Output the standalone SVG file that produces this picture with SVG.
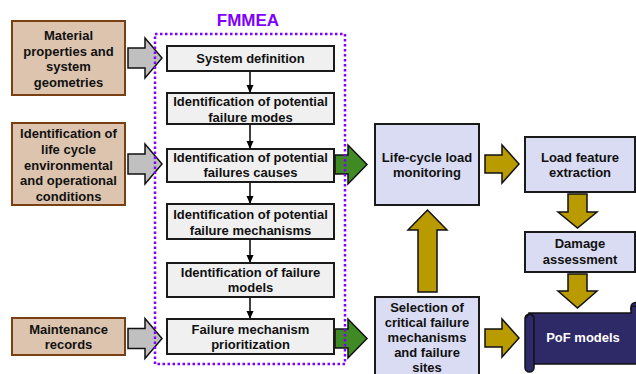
<svg xmlns="http://www.w3.org/2000/svg" width="636" height="374" viewBox="0 0 636 374">
<defs>
<marker id="ah" viewBox="0 0 8 8" refX="8" refY="4" markerWidth="8" markerHeight="8" markerUnits="userSpaceOnUse" orient="auto"><path d="M0,0.5 L8,4 L0,7.5 Z" fill="#000"/></marker>
<style>
text{font-family:"Liberation Sans",Arial,sans-serif;font-weight:bold;font-size:13px;text-anchor:middle;fill:#111}
.brown{fill:#dcc4ae;stroke:#7a3f12;stroke-width:2}
.proc{fill:#f0f0f0;stroke:#1a1a1a;stroke-width:2}
.lav{fill:#d9dcf2;stroke:#1a1a1a;stroke-width:2}
.gray{fill:#c0c0c0;stroke:#111;stroke-width:1.5;stroke-linejoin:miter}
.green{fill:#3f8a24;stroke:#111;stroke-width:1.5}
.gold{fill:#b99b00;stroke:#111;stroke-width:1.5}
.line{stroke:#000;stroke-width:1.5;fill:none}
.navy{fill:#2e2a68;stroke:#111;stroke-width:1.5}
</style>
</defs>
<rect width="636" height="374" fill="#fff"/>

<g id="connectors">
<path class="gray" d="M128,48 H145 V38 L162,58 L145,78 V68 H128 Z"/>
<path class="gray" d="M128,154 H145 V144 L162,164 L145,184 V174 H128 Z"/>
<path class="gray" d="M128,328.5 H145 V318.5 L162,338.5 L145,358.5 V348.5 H128 Z"/>
<line class="line" x1="250" y1="71" x2="250" y2="93" marker-end="url(#ah)"/>
<line class="line" x1="250" y1="124" x2="250" y2="149" marker-end="url(#ah)"/>
<line class="line" x1="250" y1="182" x2="250" y2="204" marker-end="url(#ah)"/>
<line class="line" x1="250" y1="239" x2="250" y2="263" marker-end="url(#ah)"/>
<line class="line" x1="250" y1="297" x2="250" y2="319" marker-end="url(#ah)"/>
<path class="green" d="M335,155 H348 V145 L367,164.5 L348,184 V174 H335 Z"/>
<path class="green" d="M335,329 H348 V319 L367,338.5 L348,358 V348 H335 Z"/>
<path class="gold" d="M485,155 H502 V145 L519,164 L502,183 V173 H485 Z"/>
<path class="gold" d="M485,329 H502 V319 L519,338 L502,357 V347 H485 Z"/>
<path class="gold" d="M568,194 H587 V212 H597 L577.5,228 L558,212 H568 Z"/>
<path class="gold" d="M568,274 H587 V291 H597 L577.5,308 L558,291 H568 Z"/>
<path class="gold" d="M418,292 V230 H408 L427.5,210 L447,230 H437 V292 Z"/>
</g>

<g id="fmmea">
<rect x="155" y="34" width="190" height="330" fill="none" stroke="#8000ff" stroke-width="2.5" stroke-dasharray="2.5 2.5"/>
<text x="248" y="26" style="font-size:17px;fill:#8000ff">FMMEA</text>
</g>

<g id="material">
<rect class="brown" x="12" y="21" width="113" height="74"/>
<text x="68.5" y="40">Material</text>
<text x="68.5" y="56">properties and</text>
<text x="68.5" y="71">system</text>
<text x="68.5" y="87">geometries</text>
</g>
<g id="lifecycle-conditions">
<rect class="brown" x="12" y="123" width="113" height="82"/>
<text x="68.5" y="138">Identification of</text>
<text x="68.5" y="154">life cycle</text>
<text x="68.5" y="170">environmental</text>
<text x="68.5" y="185">and operational</text>
<text x="68.5" y="201">conditions</text>
</g>
<g id="maintenance">
<rect class="brown" x="12" y="318" width="113" height="37"/>
<text x="68.5" y="334">Maintenance</text>
<text x="68.5" y="349">records</text>
</g>

<g id="system-definition">
<rect class="proc" x="167" y="46" width="167" height="25"/>
<text x="250.5" y="63">System definition</text>
</g>
<g id="failure-modes">
<rect class="proc" x="167" y="93" width="167" height="31"/>
<text x="250.5" y="106">Identification of potential</text>
<text x="250.5" y="122">failure modes</text>
</g>
<g id="failure-causes">
<rect class="proc" x="167" y="149" width="167" height="33"/>
<text x="250.5" y="162">Identification of potential</text>
<text x="250.5" y="177">failures causes</text>
</g>
<g id="failure-mechanisms">
<rect class="proc" x="167" y="204" width="167" height="35"/>
<text x="250.5" y="219">Identification of potential</text>
<text x="250.5" y="235">failure mechanisms</text>
</g>
<g id="failure-models">
<rect class="proc" x="167" y="263" width="167" height="34"/>
<text x="250.5" y="277">Identification of failure</text>
<text x="250.5" y="292">models</text>
</g>
<g id="prioritization">
<rect class="proc" x="167" y="319" width="167" height="35"/>
<text x="250.5" y="334">Failure mechanism</text>
<text x="250.5" y="349">prioritization</text>
</g>

<g id="load-monitoring">
<rect class="lav" x="375" y="124" width="104" height="81"/>
<text x="427" y="162">Life-cycle load</text>
<text x="427" y="177">monitoring</text>
</g>
<g id="selection">
<rect class="lav" x="375" y="297" width="104" height="85"/>
<text x="427" y="311.5">Selection of</text>
<text x="427" y="326.5">critical failure</text>
<text x="427" y="341.5">mechanisms</text>
<text x="427" y="356.5">and failure</text>
<text x="427" y="371.5">sites</text>
</g>
<g id="load-feature">
<rect class="lav" x="525" y="137" width="110" height="55"/>
<text x="580" y="162">Load feature</text>
<text x="580" y="177">extraction</text>
</g>
<g id="damage">
<rect class="lav" x="525" y="232" width="110" height="40"/>
<text x="580" y="248">Damage</text>
<text x="580" y="264">assessment</text>
</g>
<g id="pof-models">
<path class="navy" d="M529,313 H631 V307 A4.5,4.5 0 0 1 640,307 V364 H529 Z"/>
<rect class="navy" x="525" y="314" width="9" height="58" rx="4.5"/>
<path d="M527,318 A3,3 0 1 1 533,317" fill="none" stroke="#111" stroke-width="1.2"/>
<path d="M631,310 A3,3 0 1 1 636,311" fill="none" stroke="#111" stroke-width="1.2"/>
<text x="583" y="342" style="fill:#fff">PoF models</text>
</g>
</svg>
